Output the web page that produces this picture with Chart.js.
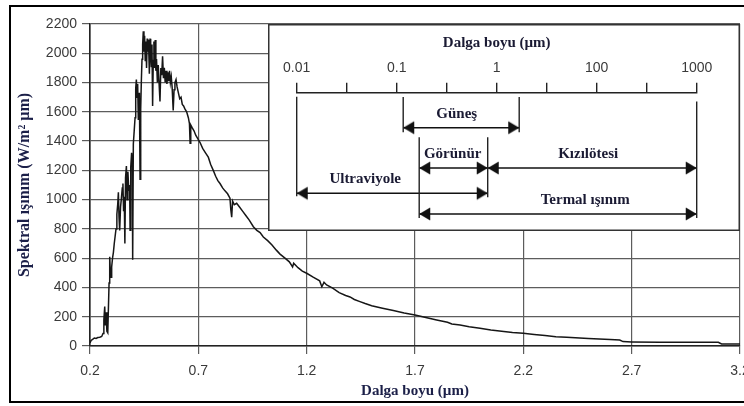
<!DOCTYPE html>
<html>
<head>
<meta charset="utf-8">
<script src="https://cdn.jsdelivr.net/npm/chart.js@4/dist/chart.umd.min.js"></script>
<style>
  body { margin: 0; background: #fff; overflow: hidden; }
  #wrap { position: relative; width: 744px; height: 406px; overflow: hidden; }
  #mainChart { position: absolute; left: 0; top: 0; }
  #insetChart { position: absolute; left: 268px; top: 24px; }
  #frame { position: absolute; left: 9px; top: 5px; width: 760px; height: 398px;
           box-sizing: border-box; border: 2.5px solid #000; pointer-events: none; }
</style>
</head>
<body>
<div id="wrap">
  <canvas id="mainChart" width="744" height="406"></canvas>
  <canvas id="insetChart" width="472" height="207"></canvas>
  <div id="frame"></div>
</div>
<script>
// Spektral ışınım eğrisi (okunan değerler)
const wavelength = [
  0.200, 0.205, 0.212, 0.220, 0.228, 0.236, 0.245, 0.254, 0.260, 0.264, 0.268, 0.271, 0.274, 0.278, 0.282,
  0.285, 0.288, 0.291, 0.294, 0.297, 0.300, 0.304, 0.308, 0.312, 0.316, 0.320, 0.324, 0.328, 0.331, 0.334,
  0.337, 0.341, 0.345, 0.349, 0.352, 0.355, 0.358, 0.361, 0.364, 0.368, 0.371, 0.375, 0.379, 0.383, 0.385,
  0.388, 0.392, 0.395, 0.397, 0.400, 0.404, 0.408, 0.411, 0.414, 0.417, 0.420, 0.423, 0.426, 0.428, 0.431,
  0.434, 0.437, 0.440, 0.443, 0.446, 0.449, 0.452, 0.455, 0.458, 0.461, 0.464, 0.467, 0.470, 0.474, 0.477,
  0.480, 0.483, 0.486, 0.489, 0.492, 0.495, 0.498, 0.501, 0.504, 0.507, 0.511, 0.515, 0.519, 0.523, 0.527,
  0.531, 0.535, 0.539, 0.543, 0.547, 0.551, 0.555, 0.559, 0.563, 0.567, 0.571, 0.575, 0.579, 0.584, 0.588,
  0.592, 0.597, 0.602, 0.608, 0.614, 0.620, 0.626, 0.632, 0.638, 0.646, 0.654, 0.659, 0.662, 0.665, 0.672,
  0.680, 0.688, 0.696, 0.708, 0.720, 0.733, 0.746, 0.757, 0.769, 0.780, 0.790, 0.800, 0.812, 0.823, 0.835,
  0.846, 0.850, 0.854, 0.858, 0.866, 0.877, 0.890, 0.905, 0.920, 0.935, 0.954, 0.970, 0.985, 1.000, 1.020,
  1.040, 1.060, 1.077, 1.100, 1.120, 1.135, 1.140, 1.160, 1.180, 1.200, 1.230, 1.260, 1.270, 1.280, 1.292,
  1.320, 1.350, 1.380, 1.400, 1.420, 1.446, 1.470, 1.500, 1.550, 1.600, 1.650, 1.700, 1.750, 1.800, 1.850,
  1.870, 1.908, 1.950, 2.000, 2.050, 2.100, 2.150, 2.200, 2.250, 2.300, 2.350, 2.400, 2.500, 2.600, 2.645,
  2.660, 2.700, 2.830, 3.100, 3.115, 3.200
];
const irradiance = [
  20, 38, 45, 55, 52, 58, 60, 65, 85, 180, 270, 140, 230, 100, 90,
  260, 430, 610, 500, 470, 540, 600, 640, 700, 750, 800, 900, 970, 1050, 880,
  790, 950, 1010, 1080, 1110, 920, 1020, 700, 1150, 1230, 1000, 1190, 1060, 1100, 790,
  1220, 1320, 1260, 590, 1380, 1470, 1560, 1760, 1820, 1700, 1790, 1550, 1710, 1730, 1140,
  1620, 1810, 1960, 2060, 2150, 2010, 2120, 1950, 2080, 1900, 2100, 2010, 2090, 1860, 2100,
  2000, 1910, 2060, 1640, 1950, 2080, 1900, 2090, 1880, 1960, 1800, 1920, 1790, 1670, 1900,
  1850, 1980, 1830, 1900, 1800, 1880, 1790, 1870, 1810, 1880, 1800, 1840, 1770, 1610, 1750,
  1800, 1820, 1770, 1730, 1690, 1700, 1650, 1640, 1620, 1600, 1560, 1520, 1385, 1510, 1490,
  1470, 1440, 1420, 1390, 1350, 1320, 1290, 1240, 1200, 1160, 1130, 1110, 1080, 1060, 1040,
  1010, 930, 880, 990, 965, 975, 950, 920, 890, 860, 815, 790, 775, 745, 720,
  690, 655, 628, 600, 575, 540, 565, 535, 512, 497, 470, 445, 405, 435, 417,
  395, 365, 345, 335, 318, 303, 290, 275, 258, 242, 226, 212, 195, 178, 162,
  150, 143, 132, 121, 110, 101, 93, 87, 79, 71, 64, 59, 52, 45, 41,
  30, 28, 25, 25, 14, 13
];
const xTicks = [0.2, 0.7, 1.2, 1.7, 2.2, 2.7, 3.2];
const xTickLabels = ['0.2', '0.7', '1.2', '1.7', '2.2', '2.7', '3.2'];

// İç şema: logaritmik dalga boyu ekseni ve bölgeler (tik sırası birimiyle)
const logTickLabels = ['0.01', '', '0.1', '', '1', '', '100', '', '1000'];
const bandNames = ['Güneş', 'Görünür', 'Kızılötesi', 'Ultraviyole', 'Termal ışınım'];
const bandFrom = [2.13, 2.45, 3.82, 0, 2.45];
const bandTo = [4.45, 3.82, 8, 3.82, 8];
const bandRow = [35.6, 76.6, 76.6, 102.3, 123.3];
const bandLabelAt = [3.2, 3.12, 5.83, 1.37, 5.77];
const guideAt = [0, 2.13, 4.45, 2.45, 3.82, 8];
const guideFrom = [4, 4.3, 4.3, 45.3, 45.3, 9];
const guideTo = [105.3, 40.3, 40.3, 127.3, 106.3, 127.3];

const tickFont = { family: '"Liberation Sans", Arial, sans-serif', size: 14 };
const titleFont = { family: '"Liberation Serif", "Times New Roman", serif', size: 15, weight: 'bold' };
const titleColor = '#1b1f48';

// Ana grafik
const ctx = document.getElementById('mainChart').getContext('2d');
const mainChart = new Chart(ctx, {
  type: 'line',
  data: {
    datasets: [{
      data: wavelength.map((w, i) => ({ x: w, y: irradiance[i] })),
      borderColor: '#161616',
      borderWidth: 1.5,
      pointRadius: 0,
      tension: 0
    }]
  },
  options: {
    responsive: false,
    animation: false,
    layout: { padding: { left: 12, right: 4, top: 24, bottom: 4 } },
    plugins: { legend: { display: false }, tooltip: { enabled: false } },
    scales: {
      x: {
        type: 'linear',
        min: 0.2,
        max: 3.2,
        afterBuildTicks: (scale) => { scale.ticks = xTicks.map(v => ({ value: v })); },
        afterFit: (scale) => { scale.height = 56; scale.paddingLeft = 0; scale.paddingRight = 0; },
        ticks: {
          font: tickFont, color: '#3a3a3a', padding: 9, maxRotation: 0, autoSkip: false,
          callback: (v) => xTickLabels[xTicks.indexOf(v)]
        },
        grid: { color: '#5c5c5c', lineWidth: 1.2, tickLength: 8 },
        border: { color: '#222', width: 1.6 },
        title: { display: true, text: 'Dalga boyu (µm)', font: titleFont, color: titleColor, padding: { top: 0, bottom: 2 } }
      },
      y: {
        min: 0,
        max: 2200,
        afterFit: (scale) => { scale.width = 78; },
        ticks: { stepSize: 200, font: tickFont, color: '#3a3a3a', padding: 5, callback: (v) => String(v) },
        grid: { color: '#5c5c5c', lineWidth: 1.2, tickLength: 8 },
        border: { color: '#222', width: 1.6 },
        title: {
          display: true, text: 'Spektral ışınım (W/m² µm)', color: titleColor,
          font: { family: titleFont.family, size: 16, weight: 'bold' },
          padding: { top: 3.5, bottom: 0 }
        }
      }
    }
  }
});

// Ok başı: ucu merkezde olacak şekilde çizilir
function makeArrowHead(pointLeft) {
  const c = document.createElement('canvas');
  c.width = 24; c.height = 24;
  const g = c.getContext('2d');
  g.fillStyle = '#111';
  g.beginPath();
  if (pointLeft) {
    g.moveTo(12, 12); g.lineTo(23, 5.5); g.lineTo(23, 18.5);
  } else {
    g.moveTo(12, 12); g.lineTo(1, 5.5); g.lineTo(1, 18.5);
  }
  g.closePath();
  g.fill();
  return c;
}
const arrowLeft = makeArrowHead(true);
const arrowRight = makeArrowHead(false);

const insetDatasets = [];
guideAt.forEach((x, i) => {
  insetDatasets.push({
    data: [{ x: x, y: guideFrom[i] }, { x: x, y: guideTo[i] }],
    borderColor: '#222', borderWidth: 1.4, pointRadius: 0, clip: false
  });
});
bandNames.forEach((name, i) => {
  insetDatasets.push({
    data: [{ x: bandFrom[i], y: bandRow[i] }, { x: bandTo[i], y: bandRow[i] }],
    borderColor: '#111', borderWidth: 1.5,
    pointStyle: [arrowLeft, arrowRight], pointRadius: 6, clip: false
  });
});

// İç şema çerçevesi ve bölge adları
const insetDecor = {
  id: 'insetDecor',
  beforeDraw(chart) {
    const g = chart.ctx;
    g.save();
    g.fillStyle = '#fff';
    g.fillRect(0, 0, chart.width, chart.height);
    g.strokeStyle = '#333';
    g.lineWidth = 1.5;
    g.strokeRect(0.75, 0.75, chart.width - 1.5, chart.height - 1.5);
    g.restore();
  },
  afterDatasetsDraw(chart) {
    const g = chart.ctx;
    const xs = chart.scales.x, ys = chart.scales.y;
    g.save();
    g.font = 'bold 15px "Liberation Serif", "Times New Roman", serif';
    g.fillStyle = '#1a1a33';
    g.textAlign = 'center';
    g.textBaseline = 'middle';
    bandNames.forEach((name, i) => {
      g.fillText(name, xs.getPixelForValue(bandLabelAt[i]), ys.getPixelForValue(bandRow[i]) - 14);
    });
    g.restore();
  }
};

const ctx2 = document.getElementById('insetChart').getContext('2d');
const insetChart = new Chart(ctx2, {
  type: 'line',
  data: { datasets: insetDatasets },
  options: {
    responsive: false,
    animation: false,
    layout: { padding: { left: 28.7, right: 43.3, top: 0, bottom: 5.3 } },
    plugins: { legend: { display: false }, tooltip: { enabled: false } },
    scales: {
      x: {
        type: 'linear',
        position: 'top',
        min: 0,
        max: 8,
        afterBuildTicks: (scale) => { scale.ticks = logTickLabels.map((l, i) => ({ value: i })); },
        afterFit: (scale) => { scale.height = 68.7; },
        ticks: {
          font: tickFont, color: '#3a3a3a', padding: 6, maxRotation: 0, autoSkip: false,
          callback: (v) => logTickLabels[v]
        },
        grid: { drawOnChartArea: false, color: '#222', lineWidth: 1.4, tickLength: 10 },
        border: { color: '#222', width: 1.4 },
        title: { display: true, text: 'Dalga boyu (µm)', font: titleFont, color: '#1a1a33', padding: { top: 10, bottom: 0 } }
      },
      y: {
        display: false,
        reverse: true,
        min: 0,
        max: 133
      }
    }
  },
  plugins: [insetDecor]
});
</script>
</body>
</html>
